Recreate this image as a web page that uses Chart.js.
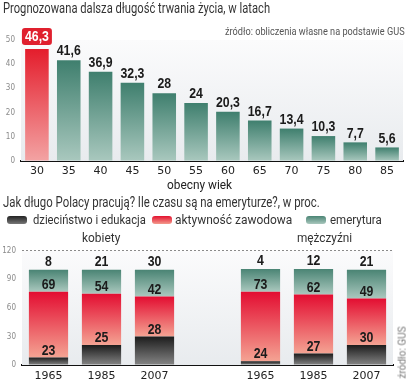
<!DOCTYPE html>
<html>
<head>
<meta charset="utf-8">
<script src="https://cdn.jsdelivr.net/npm/chart.js@4.4.0/dist/chart.umd.min.js"></script>
<style>
  body { margin: 0; width: 409px; height: 386px; position: relative; overflow: hidden; background: #fff;
         font-family: Roboto, 'Liberation Sans', sans-serif; color: #333; }
  canvas { position: absolute; left: 0; }
  .t { position: absolute; white-space: nowrap; z-index: 2; transform-origin: left center; }
  .sw { position: absolute; width: 20px; height: 8px; border-radius: 3px; z-index: 2; }
</style>
</head>
<body>
<canvas id="lifeChart" width="409" height="200" style="top:0"></canvas>
<canvas id="workChart" width="409" height="146" style="top:240px"></canvas>

<div class="t" data-w="267" style="left:3px;top:0px;font-size:14px;">Prognozowana dalsza długość trwania życia, w latach</div>
<div class="t" data-w="180" style="left:225px;top:25px;font-size:10.5px;color:#555;">źródło: obliczenia własne na podstawie GUS</div>
<div class="t" data-w="65" style="left:167px;top:176px;font-size:13.5px;color:#222;">obecny wiek</div>

<div class="t" data-w="317" style="left:3px;top:194px;font-size:14px;">Jak długo Polacy pracują? Ile czasu są na emeryturze?, w proc.</div>
<span class="sw" style="left:7px;top:216px;background:linear-gradient(#222,#777)"></span>
<div class="t" data-w="113" style="left:33px;top:211px;font-size:13.5px;">dzieciństwo i edukacja</div>
<span class="sw" style="left:152px;top:216px;background:linear-gradient(#e3112f,#f39a8c)"></span>
<div class="t" data-w="117" style="left:175px;top:211px;font-size:13.5px;">aktywność zawodowa</div>
<span class="sw" style="left:306px;top:216px;background:linear-gradient(#4a8474,#a9c7bd)"></span>
<div class="t" data-w="52" style="left:330px;top:211px;font-size:13.5px;">emerytura</div>
<div class="t" data-w="38" style="left:82px;top:229px;font-size:13.5px;">kobiety</div>
<div class="t" data-w="55" style="left:297px;top:229px;font-size:13.5px;">mężczyźni</div>
<div class="t" style="left:376px;top:347px;font-size:10px;color:#777;transform:rotate(-90deg);transform-origin:center;">źródło: GUS</div>

<script>
// ── top chart: remaining life expectancy ──
const ages = ['30', '35', '40', '45', '50', '55', '60', '65', '70', '75', '80', '85'];
const lifeYears = [46.3, 41.6, 36.9, 32.3, 28, 24, 20.3, 16.7, 13.4, 10.3, 7.7, 5.6];
const highlightIndex = 0;

// ── bottom chart: share of life, % (segments as drawn) ──
const years = ['1965', '1985', '2007', '', '1965', '1985', '2007'];
const darkSeg  = [8, 21, 30, null, 4, 12, 21];
const redSeg   = [69, 54, 42, null, 73, 62, 49];
const greenSeg = [23, 25, 28, null, 24, 27, 30];

// squeeze the headline texts to the condensed width of the original
document.querySelectorAll('.t[data-w]').forEach(el => {
  const k = +el.dataset.w / el.offsetWidth;
  el.style.transform = 'scaleX(' + k.toFixed(3) + ')';
});

const numFont = "bold 15px 'Liberation Sans', Roboto, sans-serif";
const tickFont = { family: "'DejaVu Sans'", size: 11 };
const yTickFont = { family: "'DejaVu Sans Condensed'", size: 8 };

function grad(chart, top, bottom, c1, c2) {
  if (!Number.isFinite(top) || !Number.isFinite(bottom) || top === bottom) return c1;
  const g = chart.ctx.createLinearGradient(0, top, 0, bottom);
  g.addColorStop(0, c1);
  g.addColorStop(1, c2);
  return g;
}

// stacked-segment gradient, from segment top to segment base
function segFill(c1, c2) {
  return (c) => {
    const chart = c.chart, y = chart.scales.y;
    if (!y || c.raw == null) return c1;
    let start = 0;
    for (let d = 0; d < c.datasetIndex; d++) start += chart.data.datasets[d].data[c.dataIndex] || 0;
    return grad(chart, y.getPixelForValue(start + c.raw), y.getPixelForValue(start), c1, c2);
  };
}

// condensed bold number, centred on x
function numText(ctx, txt, x, y) {
  ctx.save();
  ctx.translate(x, y);
  ctx.scale(0.82, 1);
  ctx.fillText(txt, 0, 0);
  ctx.restore();
}

const areaBg = {
  id: 'areaBg',
  beforeDatasetsDraw(chart) {
    const a = chart.chartArea, ctx = chart.ctx;
    ctx.save();
    ctx.fillStyle = grad(chart, a.top, a.bottom, '#fbfbfc', '#e8ebee');
    ctx.fillRect(a.left, a.top, a.right - a.left, a.bottom - a.top);
    ctx.restore();
  }
};

new Chart(document.getElementById('lifeChart').getContext('2d'), {
  type: 'bar',
  data: {
    labels: ages,
    datasets: [{
      data: lifeYears,
      backgroundColor: (c) => {
        const chart = c.chart, y = chart.scales.y;
        const hi = c.dataIndex === highlightIndex;
        const c1 = hi ? '#e41d2c' : '#3f7f6e', c2 = hi ? '#f3a3a3' : '#a9c8be';
        if (!y) return c1;
        return grad(chart, y.getPixelForValue(c.raw), y.getPixelForValue(0), c1, c2);
      },
      barPercentage: 0.74, categoryPercentage: 1
    }]
  },
  options: {
    responsive: false, animation: false,
    layout: { padding: { top: 40, right: 6, left: 0, bottom: 0 } },
    plugins: { legend: { display: false }, tooltip: { enabled: false } },
    scales: {
      x: {
        grid: { display: false, drawTicks: false },
        border: { display: true, color: '#111', width: 2 },
        ticks: { font: tickFont, color: '#222', padding: 4 },
        afterFit: (s) => { s.height = 39; }
      },
      y: {
        min: 0, max: 50,
        z: 1,
        grid: { color: '#6e6e6e', lineWidth: 1, drawTicks: false },
        border: { display: false, dash: [2, 2] },
        ticks: { stepSize: 10, font: yTickFont, color: '#8a8a8a', padding: 6 },
        afterFit: (s) => { s.width = 21; }
      }
    }
  },
  plugins: [areaBg, {
    id: 'lifeLabels',
    afterDraw(chart) {
      const ctx = chart.ctx, meta = chart.getDatasetMeta(0);
      ctx.save();
      ctx.font = numFont;
      ctx.textAlign = 'center';
      ctx.textBaseline = 'middle';
      meta.data.forEach((bar, i) => {
        const txt = String(lifeYears[i]).replace('.', ',');
        if (i === highlightIndex) {
          ctx.fillStyle = '#e0202e';
          ctx.beginPath();
          ctx.roundRect(bar.x - 15, bar.y - 21, 30, 17, 3);
          ctx.fill();
          ctx.fillStyle = '#fff';
          numText(ctx, txt, bar.x, bar.y - 12);
        } else {
          ctx.fillStyle = '#1b1b1b';
          numText(ctx, txt, bar.x, bar.y - 9);
        }
      });
      ctx.restore();
    }
  }]
});

new Chart(document.getElementById('workChart').getContext('2d'), {
  type: 'bar',
  data: {
    labels: years,
    datasets: [
      { data: darkSeg,  backgroundColor: segFill('#1c1c1c', '#858585') },
      { data: redSeg,   backgroundColor: segFill('#e30d31', '#f4a393') },
      { data: greenSeg, backgroundColor: segFill('#4a8474', '#aac8be') }
    ]
  },
  options: {
    responsive: false, animation: false,
    datasets: { bar: { barPercentage: 0.74, categoryPercentage: 1 } },
    layout: { padding: { top: 5, right: 16, left: 0, bottom: 0 } },
    plugins: { legend: { display: false }, tooltip: { enabled: false } },
    scales: {
      x: {
        stacked: true,
        grid: { display: false, drawTicks: false },
        border: { display: true, color: '#111', width: 2 },
        ticks: { font: tickFont, color: '#222', padding: 5 },
        afterFit: (s) => { s.height = 21; }
      },
      y: {
        stacked: true, min: 0, max: 120,
        z: 1,
        grid: { color: '#6e6e6e', lineWidth: 1, drawTicks: false },
        border: { display: false, dash: [2, 2] },
        ticks: { stepSize: 30, font: yTickFont, color: '#8a8a8a', padding: 6 },
        afterFit: (s) => { s.width = 22; }
      }
    }
  },
  plugins: [areaBg, {
    id: 'workLabels',
    afterDraw(chart) {
      const ctx = chart.ctx, y = chart.scales.y, xs = chart.scales.x;
      ctx.save();
      ctx.font = numFont;
      ctx.textAlign = 'center';
      ctx.textBaseline = 'middle';
      ctx.fillStyle = '#1b1b1b';
      years.forEach((_, i) => {
        if (darkSeg[i] == null) return;
        const x = xs.getPixelForValue(i);
        const total = darkSeg[i] + redSeg[i] + greenSeg[i];
        numText(ctx, darkSeg[i], x, y.getPixelForValue(total) - 8);
        numText(ctx, redSeg[i], x, y.getPixelForValue(darkSeg[i] + redSeg[i]) - 7);
        numText(ctx, greenSeg[i], x, y.getPixelForValue(darkSeg[i]) - 7);
      });
      ctx.restore();
    }
  }]
});
</script>
</body>
</html>
